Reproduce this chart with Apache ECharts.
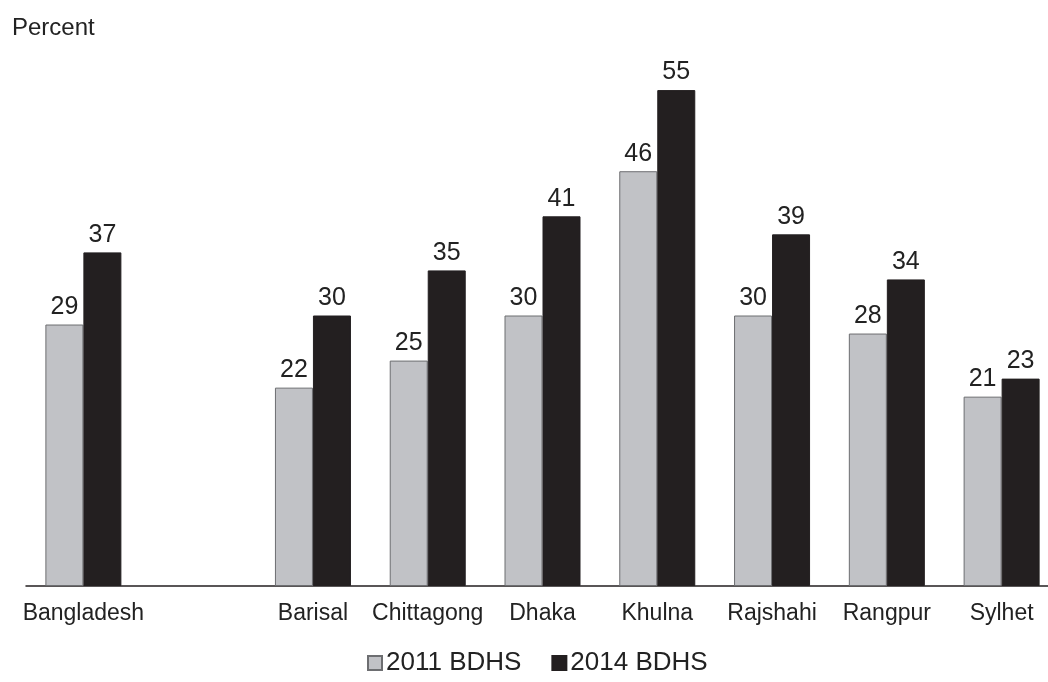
<!DOCTYPE html>
<html>
<head>
<meta charset="utf-8">
<script src="https://cdn.jsdelivr.net/npm/echarts@6/dist/echarts.min.js"></script>
<style>
  html, body { margin: 0; padding: 0; background: #fff; }
  #main { width: 1048px; height: 682px; }
</style>
</head>
<body>
<div id="main"></div>
<script>
// regions (empty slot separates the national figure from the divisions)
var regions = ["Bangladesh", "", "Barisal", "Chittagong", "Dhaka", "Khulna", "Rajshahi", "Rangpur", "Sylhet"];
var bdhs2011 = [29, "-", 22, 25, 30, 46, 30, 28, 21];
var bdhs2014 = [37, "-", 30, 35, 41, 55, 39, 34, 23];

var myChart = echarts.init(document.getElementById("main"));
var font = "Liberation Sans, Arial, sans-serif";
var option = {
  animation: false,
  textStyle: { fontFamily: font },
  title: {
    text: "Percent",
    left: 7,
    top: 11,
    textStyle: { fontSize: 24, fontWeight: "normal", color: "#222", fontFamily: font }
  },
  legend: {
    bottom: 1,
    left: 362,
    icon: "rect",
    itemWidth: 14,
    itemHeight: 14,
    itemGap: 30,
    textStyle: { fontSize: 26, color: "#222", fontFamily: font, padding: [0, 0, 0, -1] },
    data: ["2011 BDHS", "2014 BDHS"]
  },
  grid: { left: 26, top: 45, width: 1033, height: 541, outerBoundsMode: "none" },
  xAxis: {
    type: "category",
    data: regions,
    axisLine: { lineStyle: { color: "#231f20", width: 1.5 } },
    axisTick: { show: false },
    axisLabel: { interval: 0, fontSize: 23, color: "#222", margin: 16, fontFamily: font }
  },
  yAxis: {
    type: "value",
    min: 0,
    max: 60,
    show: false
  },
  series: [
    {
      name: "2011 BDHS",
      type: "bar",
      data: bdhs2011,
      barWidth: 38,
      barGap: "0%",
      itemStyle: { color: "#c1c2c6", borderColor: "#6d6e71", borderWidth: 1 },
      label: { show: true, position: "top", distance: 5, fontSize: 25, color: "#222", fontFamily: font }
    },
    {
      name: "2014 BDHS",
      type: "bar",
      data: bdhs2014,
      barWidth: 38,
      itemStyle: { color: "#231f20", borderColor: "#231f20", borderWidth: 1 },
      label: { show: true, position: "top", distance: 5, fontSize: 25, color: "#222", fontFamily: font }
    }
  ]
};
myChart.setOption(option);
</script>
</body>
</html>
